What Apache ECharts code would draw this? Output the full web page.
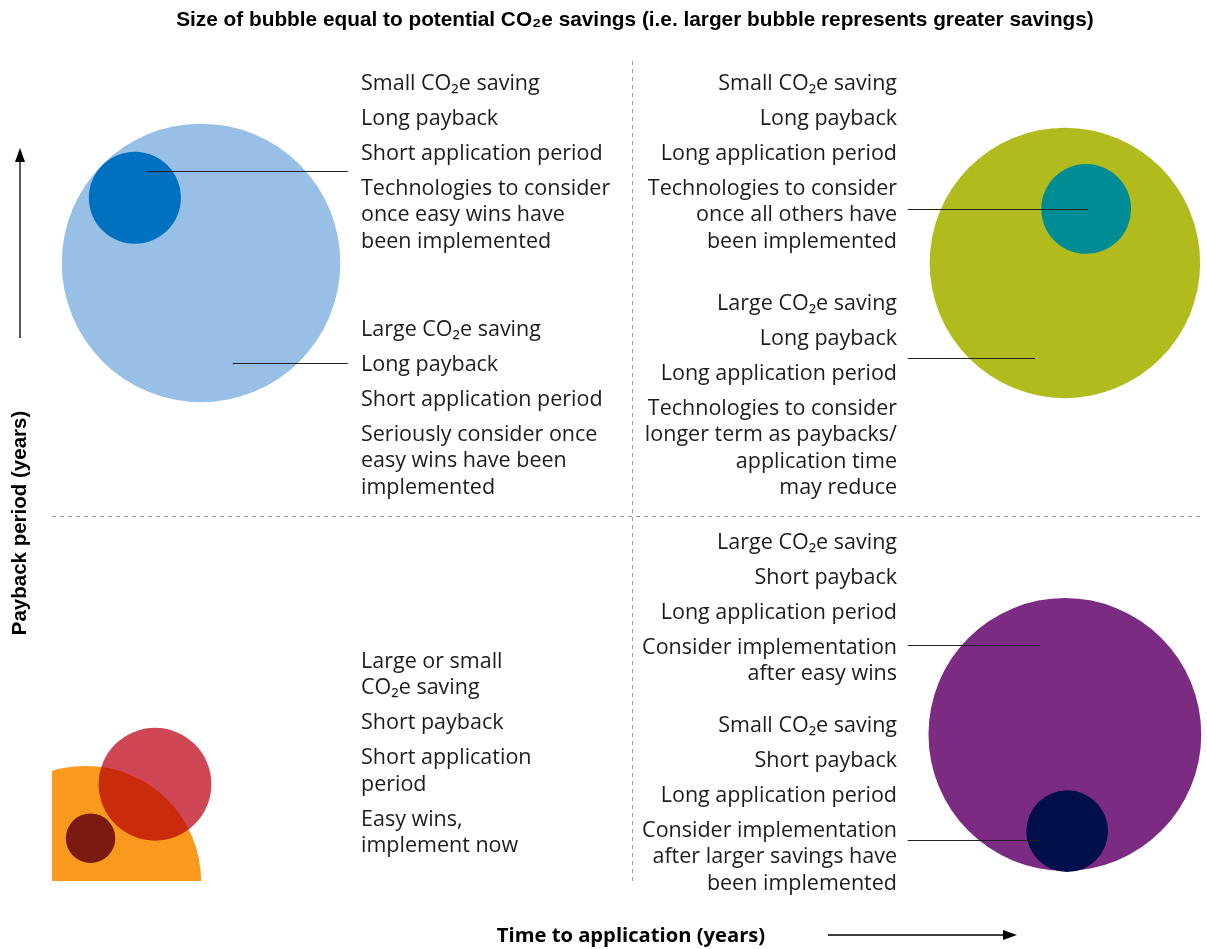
<!DOCTYPE html>
<html>
<head>
<meta charset="utf-8">
<script src="https://cdn.jsdelivr.net/npm/echarts@6/dist/echarts.min.js"></script>
<style>
  html, body { margin: 0; padding: 0; background: #fff; }
  #chart { width: 1207px; height: 949px; }
</style>
</head>
<body>
<div id="chart"></div>
<script>
// bubbles: time to application (x), payback period (y), relative CO2e saving (radius), all in axis units
const bubbleNames = ['Large saving, long payback, short application', 'Small saving, long payback, short application',
  'Large saving, long payback, long application', 'Small saving, long payback, long application',
  'Large saving, short payback, long application', 'Small saving, short payback, long application',
  'Easy win (large)', 'Easy win (small)', 'Easy win (medium)'];
const bubbleX = [2.59, 1.44, 17.60, 17.97, 17.60, 17.64, 0.59, 0.67, 1.79];
const bubbleY = [10.54, 11.65, 10.54, 11.46, 2.50, 0.85, 0.00, 0.73, 1.65];
const bubbleR = [2.42, 0.80, 2.35, 0.78, 2.37, 0.71, 2.00, 0.43, 0.98];
const bubbleColors = ['#98c0e6', '#0070c0', '#b2bb1e', '#008c95', '#7b2b82', '#01104a', '#f99a1e', '#7a1a10', '#cf4755'];

// leader lines from the text blocks into the bubbles
const leaderFrom = [[1.65, 12.11], [3.14, 8.83], [14.87, 11.46], [14.87, 8.92], [14.87, 4.02], [14.87, 0.70]];
const leaderTo = [[5.14, 12.11], [5.14, 8.83], [18.00, 11.46], [17.08, 8.92], [17.17, 4.02], [17.17, 0.70]];

// quadrant dividers
const splitTime = 10.08;
const splitPayback = 6.22;

const leftBlocks = [
  ['Small CO₂e saving', 'Long payback', 'Short application period',
    'Technologies to consider\nonce easy wins have\nbeen implemented'],
  ['Large CO₂e saving', 'Long payback', 'Short application period',
    'Seriously consider once\neasy wins have been\nimplemented'],
  ['Large or small\nCO₂e saving', 'Short payback', 'Short application\nperiod',
    'Easy wins,\nimplement now']
];
const rightBlocks = [
  ['Small CO₂e saving', 'Long payback', 'Long application period',
    'Technologies to consider\nonce all others have\nbeen implemented'],
  ['Large CO₂e saving', 'Long payback', 'Long application period',
    'Technologies to consider\nlonger term as paybacks/\napplication time\nmay reduce'],
  ['Large CO₂e saving', 'Short payback', 'Long application period',
    'Consider implementation\nafter easy wins'],
  ['Small CO₂e saving', 'Short payback', 'Long application period',
    'Consider implementation\nafter larger savings have\nbeen implemented']
];

const chart = echarts.init(document.getElementById('chart'));

const bodyFont = 'Open Sans';
const LINE_H = 26.5;
const ITEM_GAP = 35;

function textBlock(items, x, yFirst, align) {
  let els = [];
  let y = yFirst + 1.5;
  items.forEach(t => {
    let n = t.split('\n').length;
    els.push({
      type: 'text',
      x: x,
      y: y - LINE_H / 2,
      style: {
        text: t,
        fill: '#1c1c1c',
        fontFamily: bodyFont,
        fontSize: 21.5,
        lineHeight: LINE_H,
        align: align,
        verticalAlign: 'top'
      }
    });
    y += ITEM_GAP + (n - 1) * LINE_H;
  });
  return els;
}

function renderBubble(params, api) {
  let c = api.coord([api.value(0), api.value(1)]);
  let r = api.size([api.value(2), 0])[0];
  return {
    type: 'circle',
    shape: { cx: c[0], cy: c[1], r: r },
    style: { fill: api.visual('color') }
  };
}

let bubbles = bubbleX.map((x, i) => ({
  name: bubbleNames[i],
  value: [x, bubbleY[i], bubbleR[i]],
  itemStyle: { color: bubbleColors[i] }
}));

let graphics = [].concat(
  textBlock(leftBlocks[0], 361, 82, 'left'),
  textBlock(leftBlocks[1], 361, 328, 'left'),
  textBlock(leftBlocks[2], 361, 660, 'left'),
  textBlock(rightBlocks[0], 897, 82, 'right'),
  textBlock(rightBlocks[1], 897, 302, 'right'),
  textBlock(rightBlocks[2], 897, 541, 'right'),
  textBlock(rightBlocks[3], 897, 724, 'right'),
  [
    {
      type: 'text', x: 635, y: 20,
      style: {
        text: 'Size of bubble equal to potential CO₂e savings (i.e. larger bubble represents greater savings)',
        fill: '#000', fontFamily: 'Liberation Sans', fontWeight: 'bold', fontSize: 20.8,
        align: 'center', verticalAlign: 'middle'
      }
    },
    {
      type: 'text', x: 631, y: 936,
      style: {
        text: 'Time to application (years)',
        fill: '#000', fontFamily: 'Open Sans', fontWeight: 'bold', fontSize: 20.2,
        align: 'center', verticalAlign: 'middle'
      }
    },
    {
      type: 'text', x: 20, y: 523, rotation: Math.PI / 2,
      style: {
        text: 'Payback period (years)',
        fill: '#000', fontFamily: 'Liberation Sans', fontWeight: 'bold', fontSize: 20.5,
        align: 'center', verticalAlign: 'middle'
      }
    },
    { type: 'line', shape: { x1: 828, y1: 935, x2: 1006, y2: 935 }, style: { stroke: '#000', lineWidth: 1.3 } },
    { type: 'polygon', shape: { points: [[1017, 935], [1003, 930], [1003, 940]] }, style: { fill: '#000' } },
    { type: 'line', shape: { x1: 20, y1: 338, x2: 20, y2: 158 }, style: { stroke: '#000', lineWidth: 1.3 } },
    { type: 'polygon', shape: { points: [[20, 148], [15, 162], [25, 162]] }, style: { fill: '#000' } }
  ]
);

let option = {
  animation: false,
  backgroundColor: '#fff',
  grid: { left: 52, right: 4, top: 60, bottom: 68 },
  xAxis: { type: 'value', min: 0, max: 20, show: false },
  yAxis: { type: 'value', min: 0, max: 14, show: false },
  graphic: graphics,
  series: [
    {
      type: 'custom',
      clip: true,
      renderItem: renderBubble,
      data: bubbles.slice(0, 8),
      markLine: {
        silent: true,
        symbol: 'none',
        label: { show: false },
        lineStyle: { color: '#9a9a9a', width: 1, type: [4, 4] },
        data: [{ xAxis: splitTime }, { yAxis: splitPayback }]
      }
    },
    {
      type: 'custom',
      clip: true,
      blendMode: 'multiply',
      renderItem: renderBubble,
      data: bubbles.slice(8)
    },
    {
      type: 'lines',
      coordinateSystem: 'cartesian2d',
      silent: true,
      lineStyle: { color: '#222', width: 1, opacity: 1 },
      data: leaderFrom.map((p, i) => ({ coords: [p, leaderTo[i]] }))
    }
  ]
};

chart.setOption(option);
</script>
</body>
</html>
